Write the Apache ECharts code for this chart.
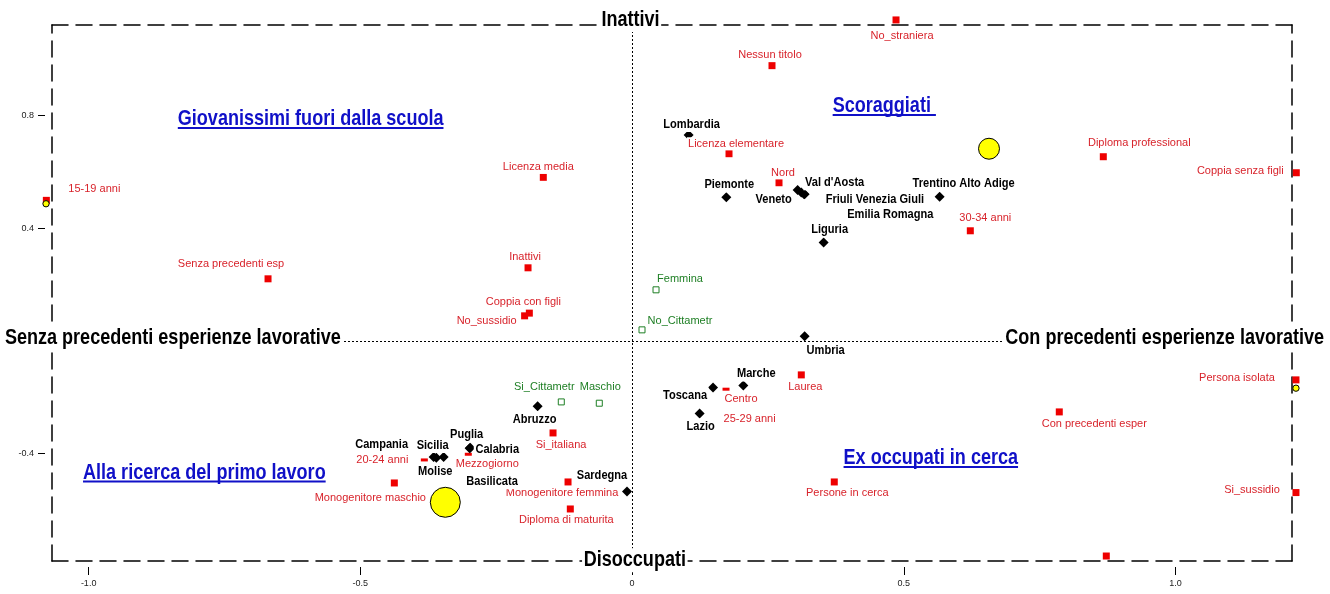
<!DOCTYPE html>
<html><head><meta charset="utf-8">
<script src="https://cdn.jsdelivr.net/npm/echarts@6/dist/echarts.min.js"></script>
<style>html,body{margin:0;padding:0;background:#fff}#c{width:1330px;height:594px}</style>
</head><body><div id="c"></div>
<script>
// ---------------- DATA ----------------
const redNames = ['No_straniera','Nessun titolo','Licenza elementare','Nord','Licenza media','Inattivi','Senza precedenti esp','15-19 anni','Coppia con figli','No_sussidio','Diploma professional','Coppia senza figli','30-34 anni','Laurea','Centro','25-29 anni','Si_italiana','Mezzogiorno','20-24 anni','Monogenitore maschio','Monogenitore femmina','Diploma di maturita','Persone in cerca','Con precedenti esper','Persona isolata','Si_sussidio',''];
const redX = [0.4856,0.2574,0.1783,0.2703,-0.1634,-0.1915,-0.6699,-1.0778,-0.1891,-0.1978,0.8670,1.2221,0.6223,0.3113,0.1728,0.2162,-0.1455,-0.3014,-0.3823,-0.4375,-0.1179,-0.1137,0.3720,0.7860,1.2215,1.2215,0.8725];
const redY = [1.140,0.9776,0.6648,0.5617,0.5809,0.2595,0.2204,0.4991,0.0985,0.0889,0.6541,0.5972,0.3910,-0.1209,-0.1717,-0.2759,-0.3271,-0.4028,-0.4230,-0.5048,-0.5012,-0.5972,-0.5012,-0.2524,-0.1386,-0.5389,-0.7643];

const regionNames = ['Lombardia','Piemonte','Veneto',"Val d'Aosta",'Friuli Venezia Giuli','Emilia Romagna','Trentino Alto Adige','Liguria','Umbria','Marche','Toscana','Lazio','Abruzzo','Puglia','Calabria','Basilicata','Sicilia','Campania','Molise','Sardegna'];
const regionX = [0.1040,0.1733,0.3045,0.3174,0.3160,0.3113,0.5658,0.3524,0.3174,0.2046,0.1489,0.1242,-0.1739,-0.2990,-0.2978,-0.2578,-0.3468,-0.3652,-0.3603,-0.0094];
const regionY = [0.7312,0.5098,0.5357,0.5204,0.5220,0.5268,0.5119,0.3498,0.0167,-0.1585,-0.1657,-0.2581,-0.2321,-0.3814,-0.3800,-0.4988,-0.4124,-0.4124,-0.4152,-0.5354];

const greenNames = ['Femmina','No_Cittametr','Si_Cittametr','Maschio'];
const greenX = [0.0440,0.0182,-0.1303,-0.0604];
const greenY = [0.1813,0.0391,-0.2169,-0.2215];

const clusterX = [0.6567,-0.3437,-1.0784,1.2215];
const clusterY = [0.6825,-0.5734,0.4870,-0.1681];
const clusterWeight = [44,90,4,4];

const xTicks = [-1.0,-0.5,0,0.5,1.0];
const yTicks = [0.8,0.4,0,-0.4];

const axisTitleText = ['Inattivi','Disoccupati','Senza precedenti esperienze lavorative','Con precedenti esperienze lavorative'];
const axisTitleX = [-0.003,0.005,-0.845,0.980];
const axisTitleY = [1.140,-0.7796,0.010,0.010];

const quadrantText = ['Giovanissimi fuori dalla scuola','Scoraggiati ','Alla ricerca del primo lavoro','Ex occupati in cerca'];
const quadrantX = [-0.5915,0.4640,-0.7871,0.5496];
const quadrantY = [0.7881,0.8340,-0.4678,-0.4159];

// ---------------- LAYOUT (label nudges, px) ----------------
const redNudge = {'No_straniera':[6,16],'Nessun titolo':[-2,-11],'Licenza elementare':[7,-10],'Nord':[4,-10],'Licenza media':[-5,-10],'Inattivi':[-3,-11],'Senza precedenti esp':[-37,-15],'15-19 anni':[48,-11],'Coppia con figli':[-6,-11],'No_sussidio':[-38,5],'Diploma professional':[36,-14],'Coppia senza figli':[-56,-2],'30-34 anni':[15,-13],'Laurea':[4,12],'Centro':[15,10],'25-29 anni':[0,0],'Si_italiana':[8,12],'Mezzogiorno':[19,10],'20-24 anni':[-42,0],'Monogenitore maschio':[-24,15],'Monogenitore femmina':[-6,11],'Diploma di maturita':[-4,11],'Persone in cerca':[13,11],'Con precedenti esper':[35,12],'Persona isolata':[-59,-2],'Si_sussidio':[-44,-3]};
const regionNudge = {'Lombardia':[3,-11],'Piemonte':[3,-13],'Veneto':[-24,9],"Val d'Aosta":[30,-12],'Friuli Venezia Giuli':[71,5],'Emilia Romagna':[89,22],'Trentino Alto Adige':[24,-13],'Liguria':[6,-13],'Umbria':[21,14],'Marche':[13,-12],'Toscana':[-28,8],'Lazio':[1,13],'Abruzzo':[-3,13],'Puglia':[-3,-14],'Calabria':[27,1],'Basilicata':[0,0],'Sicilia':[-11,-12],'Campania':[-52,-13],'Molise':[-1,13.5],'Sardegna':[-25,-16]};
const greenNudge = {'Femmina':[24,-11],'No_Cittametr':[38,-9],'Si_Cittametr':[-17,-15],'Maschio':[1,-16]};
const flatMarks = new Set(['Centro','Mezzogiorno','20-24 anni']);

const xMin=-1.0674, xMax=1.2142, yMin=-0.782, yMax=1.122;
const SANS = '"Liberation Sans",Arial,sans-serif';
const NARROW_SCALE = 0.82;   // Arial Narrow ≈ Arial squeezed horizontally
const RED='#ee0000', RED_T='#d8232b', GREEN='#1e7f24', BLUE='#1010c8';

function pts(names, xs, ys){ return names.map((n,i)=>({name:n, value:[xs[i], ys[i]]})); }

function labelSeries(names, xs, ys, nudge, font){
  const data = names.map((n,i)=>({name:n, value:[xs[i],ys[i]],
    label:{offset:(nudge[n]||[0,0])}})).filter(d=>d.name!=='');
  return {type:'scatter', z:5, clip:false, silent:true, symbolSize:1,
    itemStyle:{color:'rgba(0,0,0,0)', opacity:1}, data,
    label:Object.assign({show:true, position:'inside', formatter:'{b}', backgroundColor:'#fff', padding:[1,1], textBorderWidth:0}, font)};
}

const chart = echarts.init(document.getElementById('c'), null, {renderer:'canvas'});
const dashed = {show:true, onZero:false, lineStyle:{color:'#000', width:1.5, type:[16,8]}};
const frameAxis = (pos, extra) => Object.assign({type:'value', position:pos, axisLine:dashed, axisTick:{show:false}, axisLabel:{show:false}, splitLine:{show:false}}, extra);
const fmt = v => v===0 ? '0' : v.toFixed(1);

const option = {
  animation:false,
  backgroundColor:'#fff',
  grid:{left:52, right:38, top:25, bottom:33},
  xAxis:[
    frameAxis('bottom',{min:xMin,max:xMax}),
    frameAxis('top',{min:xMin,max:xMax}),
    {type:'value', position:'bottom', offset:6, min:xMin, max:xMax, axisLine:{show:false, onZero:false}, splitLine:{show:false},
     axisTick:{show:true, length:8, customValues:xTicks, lineStyle:{color:'#000',width:1}},
     axisLabel:{show:true, customValues:xTicks, formatter:fmt, fontSize:9, color:'#222', margin:12, fontFamily:SANS}}
  ],
  yAxis:[
    frameAxis('left',{min:yMin,max:yMax}),
    frameAxis('right',{min:yMin,max:yMax}),
    {type:'value', position:'left', offset:7, min:yMin, max:yMax, axisLine:{show:false, onZero:false}, splitLine:{show:false},
     axisTick:{show:true, length:7, customValues:yTicks, lineStyle:{color:'#000',width:1}},
     axisLabel:{show:true, customValues:yTicks, formatter:fmt, fontSize:9, color:'#222', margin:11, fontFamily:SANS}}
  ],
  series:[
    {type:'scatter', z:1, data:[], silent:true,
     markLine:{silent:true, symbol:'none', label:{show:false}, animation:false,
       lineStyle:{color:'#000', width:1, type:[2,2]},
       data:[{xAxis:0},{yAxis:0}]}},
    {type:'scatter', z:2, clip:false, silent:true, symbol:'rect',
     symbolSize:(v,p)=> flatMarks.has(p.name) ? [7,3] : 7,
     itemStyle:{color:RED, opacity:1}, data:pts(redNames, redX, redY)},
    {type:'scatter', z:2, clip:false, silent:true, symbol:'diamond', symbolSize:10,
     itemStyle:{color:'#000', opacity:1}, data:pts(regionNames, regionX, regionY)},
    {type:'scatter', z:2, clip:false, silent:true, symbol:'rect', symbolSize:6,
     itemStyle:{color:'#fff', borderColor:GREEN, borderWidth:1, opacity:1}, data:pts(greenNames, greenX, greenY)},
    {type:'scatter', z:3, clip:false, silent:true, symbol:'circle',
     symbolSize:(v)=> 3.16*Math.sqrt(v[2]),
     itemStyle:{color:'#ffff00', borderColor:'#000', borderWidth:1, opacity:1},
     data:clusterX.map((x,i)=>[x, clusterY[i], clusterWeight[i]])},
    labelSeries(redNames, redX, redY, redNudge, {color:RED_T, fontSize:11, fontFamily:SANS}),
    labelSeries(greenNames, greenX, greenY, greenNudge, {color:GREEN, fontSize:11, fontFamily:SANS})
  ]
};
chart.setOption(option);

// narrow bold texts (region names, axis titles, quadrant titles) as graphic text anchored in data coords
const ctx = document.createElement('canvas').getContext('2d');
const elems = [];
function narrowText(t, dx, dy, nudge, size, fill, bg, underline){
  const p = chart.convertToPixel({gridIndex:0}, [dx, dy]);
  const x = p[0] + nudge[0], y = p[1] + nudge[1];
  const font = 'bold ' + size + 'px ' + SANS;
  elems.push({type:'text', x, y, z:100, silent:true, scaleX:NARROW_SCALE, scaleY:1,
    style:{text:t, font, fill, align:'center', verticalAlign:'middle',
      backgroundColor: bg ? '#fff' : null, padding: bg ? [1,2] : 0}});
  if (underline){
    ctx.font = font;
    const w = ctx.measureText(t).width * NARROW_SCALE;
    elems.push({type:'rect', z:100, silent:true, shape:{x:x-w/2, y:y+8, width:w, height:2}, style:{fill}});
  }
}
regionNames.forEach((n,i)=> narrowText(n, regionX[i], regionY[i], regionNudge[n]||[0,0], 13.5, '#000', true, false));
axisTitleText.forEach((t,i)=> narrowText(t, axisTitleX[i], axisTitleY[i], [0,0], 22, '#000', true, false));
quadrantText.forEach((t,i)=> narrowText(t, quadrantX[i], quadrantY[i], [0,0], 22, BLUE, false, true));
chart.setOption({graphic:{elements:elems}});
</script>
</body></html>
